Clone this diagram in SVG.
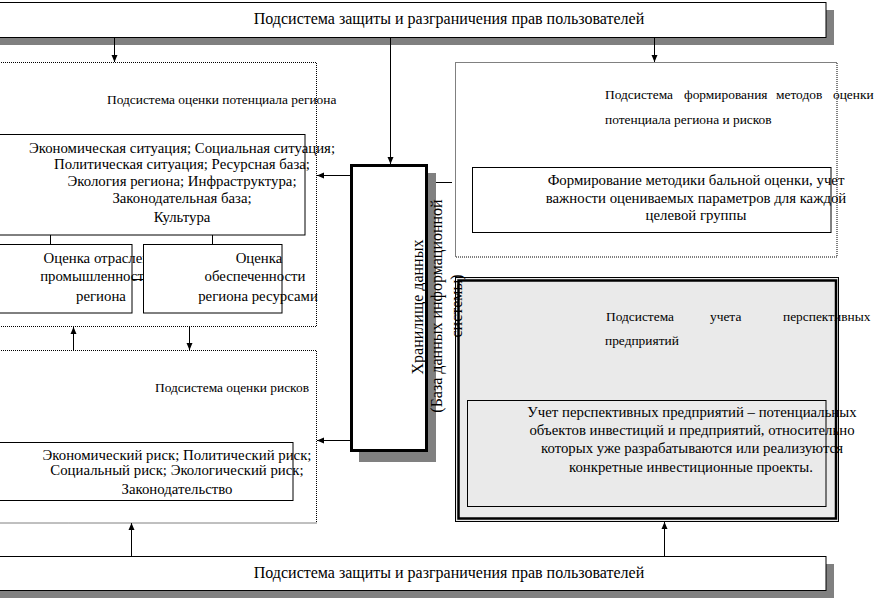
<svg xmlns="http://www.w3.org/2000/svg" width="887" height="601" viewBox="0 0 887 601">
<defs>
<marker id="ah" markerUnits="userSpaceOnUse" markerWidth="8" markerHeight="8" viewBox="0 0 8 8" refX="7" refY="4" orient="auto">
<path d="M0,1 L7,4 L0,7 Z" fill="#000"/>
</marker>
</defs>
<style>
text{font-family:"Liberation Serif","Times New Roman",serif;fill:#000}
.t{font-size:14.8px}
.lbl{font-size:13.4px}
.big{font-size:16px}
.m{text-anchor:middle}
.box{fill:#fff;stroke:#000;stroke-width:1}
.dot{fill:none;stroke:#000;stroke-width:1;stroke-dasharray:1 1}
.sh{fill:#808080}
.ln{stroke:#000;stroke-width:1;fill:none}
.ar{stroke:#000;stroke-width:1;fill:none;marker-end:url(#ah)}
</style>
<rect width="887" height="601" fill="#fff"/>

<g id="top-protection">
<rect class="sh" x="0" y="10" width="834" height="35"/>
<rect class="box" x="-5" y="2.5" width="831" height="35"/>
<text class="big m" x="449" y="24">Подсистема защиты и разграничения прав пользователей</text>
</g>

<g id="potential">
<rect class="dot" x="-5" y="62.5" width="321.5" height="264"/>
<text class="lbl" x="107" y="104">Подсистема оценки потенциала региона</text>
</g>

<g id="potential-factors">
<rect class="box" x="-5" y="134.5" width="310" height="100.5"/>
<text class="t m" x="182" y="153">Экономическая ситуация; Социальная ситуация;</text>
<text class="t m" x="182" y="169">Политическая ситуация; Ресурсная база;</text>
<text class="t m" x="182" y="186">Экология региона; Инфраструктура;</text>
<text class="t m" x="182" y="203">Законодательная база;</text>
<text class="t m" x="182" y="222">Культура</text>
</g>

<g id="industry">
<rect class="box" x="-5" y="244.5" width="137" height="68.5"/>
<text class="t m" x="104" y="263">Оценка отраслевой</text>
<text class="t m" x="96" y="281">промышленности</text>
<text class="t m" x="101" y="301">региона</text>
</g>

<g id="resources">
<rect class="box" x="143.5" y="244.5" width="138.5" height="68.5"/>
<text class="t m" x="259" y="263">Оценка</text>
<text class="t m" x="255" y="281">обеспеченности</text>
<text class="t m" x="258" y="301">региона ресурсами</text>
</g>

<g id="risks">
<rect class="dot" x="-5" y="350.5" width="321.5" height="172.5"/>
<text class="lbl" x="155" y="392">Подсистема оценки рисков</text>
</g>

<g id="risk-factors">
<rect class="box" x="-5" y="442.5" width="298" height="58"/>
<text class="t m" x="177" y="460">Экономический риск; Политический риск;</text>
<text class="t m" x="177" y="475">Социальный риск; Экологический риск;</text>
<text class="t m" x="177" y="494">Законодательство</text>
</g>

<g id="methods">
<rect class="dot" x="455.5" y="62.5" width="381.5" height="194.5"/>
<text class="lbl" x="605" y="99">Подсистема</text>
<text class="lbl" x="684" y="99">формирования</text>
<text class="lbl" x="776" y="99">методов</text>
<text class="lbl" x="833" y="99">оценки</text>
<text class="lbl" x="605" y="124">потенциала региона и рисков</text>
</g>

<g id="methods-box">
<rect class="box" x="472.5" y="167.5" width="358.5" height="65"/>
<text class="t m" x="696" y="185">Формирование методики бальной оценки, учет</text>
<text class="t m" x="696" y="203">важности оцениваемых параметров для каждой</text>
<text class="t m" x="696" y="220">целевой группы</text>
</g>

<g id="perspective">
<rect x="455.5" y="277.5" width="383" height="244" fill="#eaeaea" stroke="#000" stroke-width="1"/>
<rect x="458.5" y="280.5" width="377.5" height="238" fill="none" stroke="#000" stroke-width="2.5"/>
<text class="lbl" x="606" y="321">Подсистема</text>
<text class="lbl" x="710" y="321">учета</text>
<text class="lbl" x="783" y="321">перспективных</text>
<text class="lbl" x="605" y="345">предприятий</text>
</g>

<g id="perspective-box">
<rect x="467.5" y="400.5" width="358.5" height="106" fill="#eaeaea" stroke="#000" stroke-width="1"/>
<text class="t m" x="692" y="417">Учет перспективных предприятий – потенциальных</text>
<text class="t m" x="692" y="435">объектов инвестиций и предприятий, относительно</text>
<text class="t m" x="692" y="453">которых уже разрабатываются или реализуются</text>
<text class="t m" x="691" y="472">конкретные инвестиционные проекты.</text>
</g>

<g id="storage">
<rect class="sh" x="359" y="173" width="77" height="289"/>
<rect x="351.5" y="165.5" width="75" height="285" fill="#fff" stroke="#000" stroke-width="3"/>
<text style="font-size:16px" class="m" transform="translate(423,307) rotate(-90)">Хранилище данных</text>
<text style="font-size:16px" class="m" transform="translate(442,306) rotate(-90)">(База данных информационной</text>
<text style="font-size:16px" class="m" transform="translate(462,306) rotate(-90)">системы)</text>
</g>

<g id="bottom-protection">
<rect class="sh" x="0" y="564" width="834" height="34"/>
<rect class="box" x="-5" y="556.5" width="831" height="34"/>
<text class="big m" x="449" y="578">Подсистема защиты и разграничения прав пользователей</text>
</g>

<g id="connectors">
<line class="ar" x1="114.5" y1="38" x2="114.5" y2="62"/>
<line class="ar" x1="390.5" y1="38" x2="390.5" y2="164"/>
<line class="ar" x1="654.5" y1="38" x2="654.5" y2="62"/>
<line class="ar" x1="351" y1="175.5" x2="317" y2="175.5"/>
<line class="ar" x1="351" y1="440.5" x2="317" y2="440.5"/>
<line class="ln" x1="436" y1="182.5" x2="452" y2="182.5"/>
<line class="ln" x1="50.5" y1="235" x2="50.5" y2="244"/>
<line class="ln" x1="212.5" y1="235" x2="212.5" y2="244"/>
<line class="ln" x1="132" y1="279.5" x2="143" y2="279.5"/>
<line class="ar" x1="73.5" y1="350" x2="73.5" y2="327"/>
<line class="ar" x1="189.5" y1="327" x2="189.5" y2="350"/>
<line class="ar" x1="131.5" y1="556" x2="131.5" y2="523"/>
<line class="ar" x1="664.5" y1="556" x2="664.5" y2="522"/>
</g>
</svg>
